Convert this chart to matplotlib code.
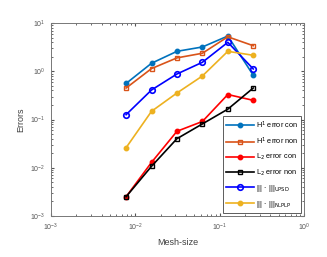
import matplotlib.pyplot as plt
import numpy as np

plt.rcParams['font.family'] = ['Liberation Sans', 'DejaVu Sans']

# mesh sizes and error values
h = [1/128, 1/64, 1/32, 1/16, 1/8, 1/4]
h1_con = [0.56, 1.47, 2.6, 3.2, 5.4, 0.83]
h1_non = [0.45, 1.14, 1.9, 2.37, 5.2, 3.4]
l2_con = [0.0025, 0.0129, 0.057, 0.091, 0.33, 0.25]
l2_non = [0.0025, 0.0107, 0.040, 0.081, 0.164, 0.45]
upsd = [0.126, 0.41, 0.88, 1.54, 4.0, 1.12]
nlplp = [0.026, 0.148, 0.355, 0.80, 2.6, 2.15]

labels = [r'H$^1$ error con', r'H$^1$ error non', r'L$_2$ error con',
          r'L$_2$ error non', r'||| $\cdot$ |||$_{\rm UPSD}$',
          r'||| $\cdot$ |||$_{\rm NLPLP}$']

fig = plt.figure(figsize=(3.27, 2.57), dpi=100)
ax = fig.add_axes([0.155, 0.16, 0.775, 0.75])

ms = 3.2
lw = 1.2
ax.loglog(h, h1_con, '-o', color='#0072BD', lw=lw, ms=ms, label=labels[0])
ax.loglog(h, h1_non, '-s', color='#D95319', lw=lw, ms=ms, mfc='none', label=labels[1])
ax.loglog(h, l2_con, '-o', color='#FF0000', lw=lw, ms=ms, label=labels[2])
ax.loglog(h, l2_non, '-s', color='k', lw=lw, ms=ms, mfc='none', label=labels[3])
ax.loglog(h, upsd, '-o', color='#0000FF', lw=lw, ms=4, mfc='none', mew=1.2, label=labels[4])
ax.loglog(h, nlplp, '-o', color='#EDB120', lw=lw, ms=ms, label=labels[5])

ax.set_xlim(1e-3, 1)
ax.set_ylim(1e-3, 10)
ax.set_xlabel('Mesh-size', fontsize=6.5, color='#404040', labelpad=4)
ax.set_ylabel('Errors', fontsize=6.5, color='#404040', labelpad=3)
ax.tick_params(which='both', direction='in', top=True, right=True,
               labelsize=5, colors='#555555', length=2.5, pad=4)
ax.tick_params(which='minor', length=1.5)
for s in ax.spines.values():
    s.set_color('#777777')
    s.set_linewidth(0.7)

leg = ax.legend(loc='lower right', fontsize=5.3, frameon=True, fancybox=False,
                edgecolor='#333333', handlelength=3.8, borderpad=0.4,
                labelspacing=0.7, handletextpad=0.3, borderaxespad=0.4)
leg.get_frame().set_linewidth(0.7)

fig.savefig('out.png', dpi=100)
